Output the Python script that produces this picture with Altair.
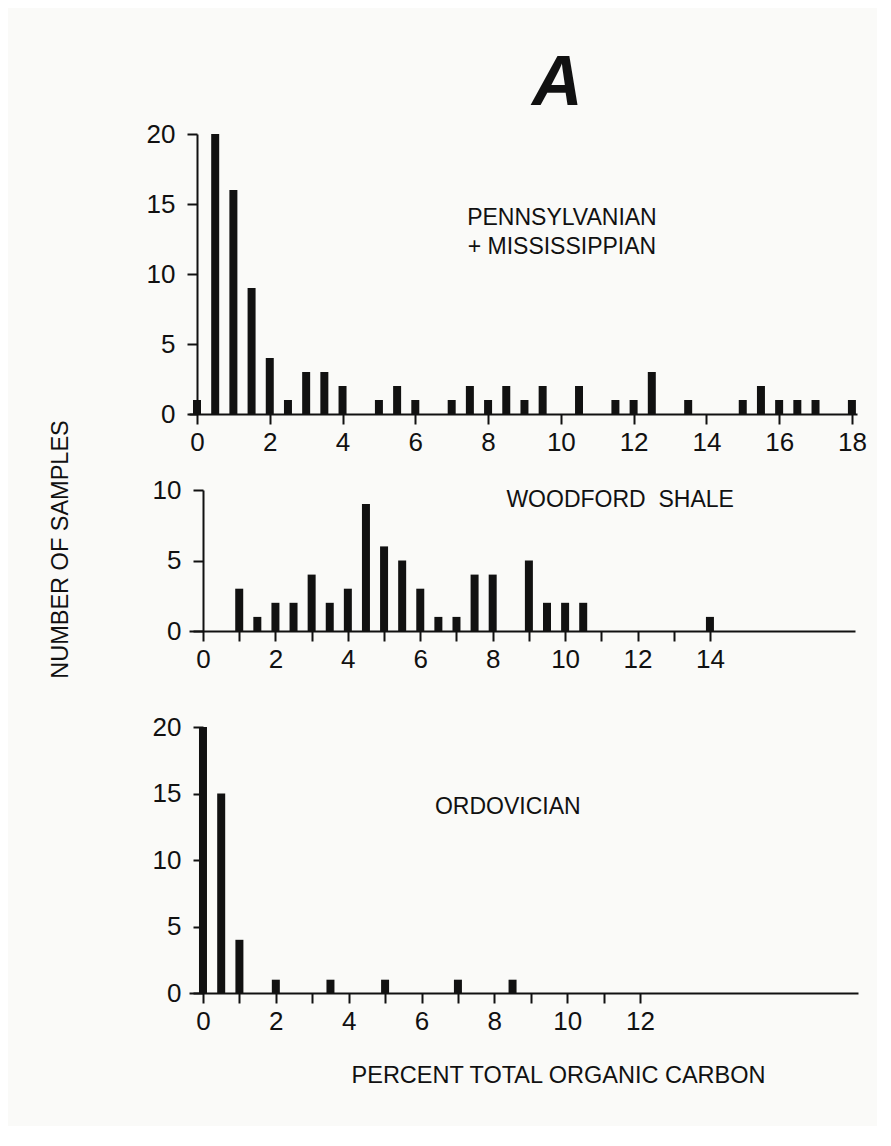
import altair as alt
import pandas as pd

# ---- data ----
penn_x = [0, 0.5, 1, 1.5, 2, 2.5, 3, 3.5, 4, 5, 5.5, 6, 7, 7.5, 8, 8.5, 9, 9.5,
          10.5, 11.5, 12, 12.5, 13.5, 15, 15.5, 16, 16.5, 17, 18]
penn_n = [1, 20, 16, 9, 4, 1, 3, 3, 2, 1, 2, 1, 1, 2, 1, 2, 1, 2,
          2, 1, 1, 3, 1, 1, 2, 1, 1, 1, 1]

wood_x = [1, 1.5, 2, 2.5, 3, 3.5, 4, 4.5, 5, 5.5, 6, 6.5, 7, 7.5, 8, 9, 9.5, 10, 10.5, 14]
wood_n = [3, 1, 2, 2, 4, 2, 3, 9, 6, 5, 3, 1, 1, 4, 4, 5, 2, 2, 2, 1]

ord_x = [0, 0.5, 1, 2, 3.5, 5, 7, 8.5]
ord_n = [20, 15, 4, 1, 1, 1, 1, 1]

penn_ticks = list(range(0, 19))
wood_ticks = list(range(0, 15))
ord_ticks = list(range(0, 13))
y_ticks_20 = [0, 5, 10, 15, 20]
y_ticks_10 = [0, 5, 10]

panel_labels = ["PENNSYLVANIAN\n+ MISSISSIPPIAN", "WOODFORD\u00a0\u00a0SHALE", "ORDOVICIAN"]
label_x = [10.03, 11.52, 8.37]
label_y = [14.0, 9.3, 13.95]

FONT = "Liberation Sans"
INK = "#111111"
PAPER = "#FAFAF8"
EVEN = "datum.value % 2 === 0 ? datum.label : ''"


def panel(xs, ns, ticks, xdom, width, ydom, yticks, height, label, lx, ly,
          yrange=None, yoffset=0, ytitle=None, xtitle=None):
    df = pd.DataFrame({"pct": xs, "n": ns})
    if yrange is not None:
        yscale = alt.Scale(domain=ydom, nice=False, zero=True, padding=0, range=yrange)
    else:
        yscale = alt.Scale(domain=ydom, nice=False, zero=True, padding=0)
    xscale = alt.Scale(domain=xdom, nice=False, zero=False, padding=0)

    yaxis_kw = dict(values=yticks, offset=yoffset, grid=False)
    if ytitle:
        yaxis_kw.update(title=ytitle, titleX=-143, titleY=59, titleAngle=-90,
                        titleAlign="center", titleBaseline="middle",
                        titleFontSize=23.5, titleFont=FONT, titleFontWeight="normal",
                        titleColor=INK)
    else:
        yaxis_kw.update(title=None)

    xaxis_kw = dict(values=ticks, labelExpr=EVEN, grid=False, labelFlush=False)
    if xtitle:
        xaxis_kw.update(title=xtitle, titleX=369, titleY=82, titleAlign="center",
                        titleBaseline="middle", titleFontSize=23.5, titleFont=FONT,
                        titleFontWeight="normal", titleColor=INK)
    else:
        xaxis_kw.update(title=None)

    bars = alt.Chart(df).mark_bar(size=8, color=INK, orient="vertical").encode(
        x=alt.X("pct:Q", scale=xscale, axis=alt.Axis(**xaxis_kw)),
        y=alt.Y("n:Q", scale=yscale, axis=alt.Axis(**yaxis_kw)),
    )
    lab = alt.Chart(pd.DataFrame({"t": [label], "x": [lx], "y": [ly]})).mark_text(
        font=FONT, fontSize=23, color=INK, align="center", baseline="middle",
        lineBreak="\n", lineHeight=29,
    ).encode(x="x:Q", y="y:Q", text="t:N")
    return alt.layer(bars, lab).properties(width=width, height=height)


p1 = panel(penn_x, penn_n, penn_ticks, [-0.22, 18.14], 668, [0, 20], y_ticks_20, 280,
           panel_labels[0], label_x[0], label_y[0], yoffset=-8)
p2 = panel(wood_x, wood_n, wood_ticks, [-0.387, 18.006], 666, [0, 10], y_ticks_10, 141,
           panel_labels[1], label_x[1], label_y[1], yoffset=-14,
           ytitle="NUMBER OF SAMPLES")
p3 = panel(ord_x, ord_n, ord_ticks, [-0.384, 17.985], 669, [0, 20], y_ticks_20, 286,
           panel_labels[2], label_x[2], label_y[2], yrange=[286, 20], yoffset=-14,
           xtitle="PERCENT TOTAL ORGANIC CARBON")

chart = alt.vconcat(p1, p2, p3, spacing=76, bounds="flush").properties(
    title=alt.TitleParams("A", font=FONT, fontSize=70, fontWeight="bold",
                          fontStyle="italic", color=INK, anchor="start", dx=484,
                          offset=1),
    padding={"left": 40, "top": 41, "right": 10, "bottom": 39},
).configure(background=PAPER).configure_view(stroke=None).configure_axis(
    domainColor=INK, domainWidth=2, tickColor=INK, tickWidth=2, tickSize=10,
    labelFont=FONT, labelFontSize=26, labelColor=INK, labelPadding=12,
).configure_axisX(labelPadding=5)

chart.save("out.html", embed_options={"renderer": "svg", "actions": False})
